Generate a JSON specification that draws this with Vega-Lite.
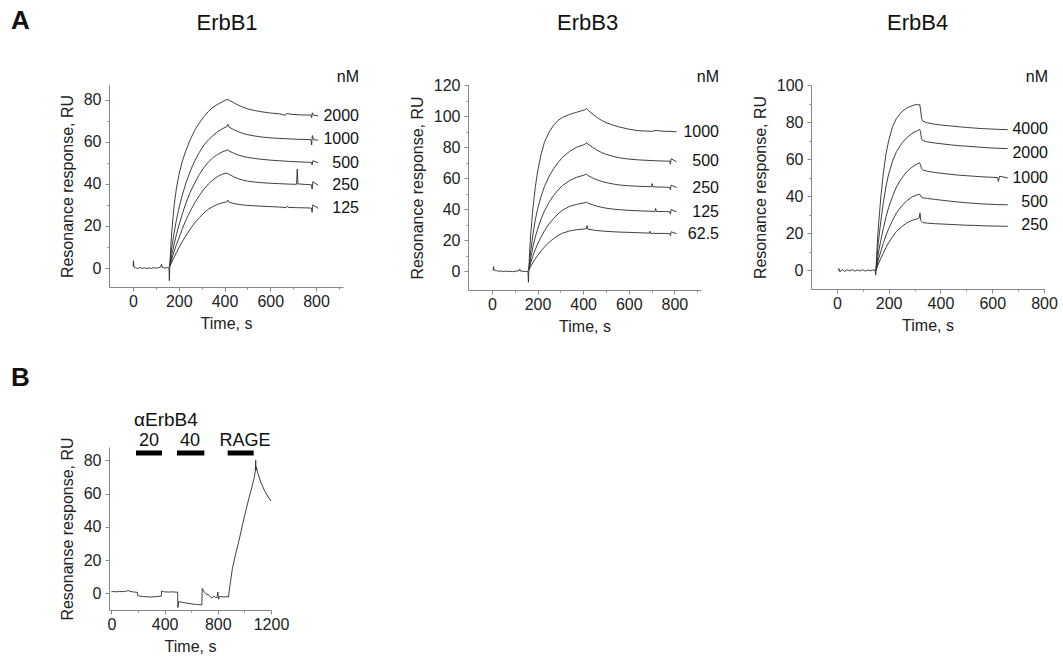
{
"$schema": "https://vega.github.io/schema/vega-lite/v6.json",
"padding": {"left": 10, "top": 8, "right": 5, "bottom": 5},
"background": "white",
"config": {
  "view": {"stroke": null},
  "font": "Liberation Sans",
  "axis": {"domainColor": "#888", "tickColor": "#888", "labelColor": "#222", "titleColor": "#222", "labelFontSize": 16, "titleFontSize": 16, "titleFontWeight": "normal", "grid": false, "labelFlush": false, "labelOverlap": false, "labelFont": "Liberation Sans", "titleFont": "Liberation Sans"},
  "axisX": {"labelPadding": 2, "titlePadding": 6},
  "axisY": {"labelPadding": 4, "titlePadding": 8},
  "text": {"font": "Liberation Sans", "color": "#111"}
},
"datasets": {
  "p1": [
    {"s":"b","t":0,"v":0.8},{"s":"b","t":2,"v":3.5},{"s":"b","t":4,"v":0.5},{"s":"b","t":10,"v":0.2},{"s":"b","t":20,"v":-0.3},{"s":"b","t":30,"v":0.3},{"s":"b","t":40,"v":-0.2},{"s":"b","t":50,"v":0.2},{"s":"b","t":60,"v":-0.3},{"s":"b","t":70,"v":0.1},{"s":"b","t":80,"v":-0.2},{"s":"b","t":90,"v":0.2},{"s":"b","t":100,"v":-0.1},{"s":"b","t":110,"v":0.2},{"s":"b","t":120,"v":0.4},{"s":"b","t":125,"v":1.8},{"s":"b","t":128,"v":0.3},{"s":"b","t":140,"v":0},{"s":"b","t":150,"v":0.2},{"s":"b","t":157,"v":0.5},{"s":"b","t":159,"v":-6},{"s":"b","t":161,"v":1},
    {"s":"2000","t":161,"v":1},{"s":"2000","t":165,"v":10},{"s":"2000","t":170,"v":18},{"s":"2000","t":180,"v":30},{"s":"2000","t":190,"v":38},{"s":"2000","t":200,"v":44},{"s":"2000","t":215,"v":50.5},{"s":"2000","t":230,"v":55.5},{"s":"2000","t":250,"v":61},{"s":"2000","t":270,"v":65.5},{"s":"2000","t":290,"v":69},{"s":"2000","t":310,"v":72},{"s":"2000","t":330,"v":74.5},{"s":"2000","t":350,"v":76.5},{"s":"2000","t":370,"v":77.8},{"s":"2000","t":390,"v":79},{"s":"2000","t":405,"v":79.8},{"s":"2000","t":415,"v":80.2},{"s":"2000","t":420,"v":79.7},{"s":"2000","t":440,"v":78.6},{"s":"2000","t":460,"v":77.4},{"s":"2000","t":480,"v":76.5},{"s":"2000","t":500,"v":75.7},{"s":"2000","t":530,"v":74.9},{"s":"2000","t":560,"v":74.3},{"s":"2000","t":600,"v":73.7},{"s":"2000","t":640,"v":73.3},{"s":"2000","t":665,"v":72.6},{"s":"2000","t":670,"v":73.4},{"s":"2000","t":700,"v":73},{"s":"2000","t":730,"v":72.8},{"s":"2000","t":760,"v":72.7},{"s":"2000","t":778,"v":72.8},{"s":"2000","t":781,"v":71.5},{"s":"2000","t":784,"v":73.8},{"s":"2000","t":790,"v":72.6},{"s":"2000","t":810,"v":72.3},
    {"s":"1000","t":161,"v":1},{"s":"1000","t":165,"v":6},{"s":"1000","t":170,"v":10},{"s":"1000","t":180,"v":17},{"s":"1000","t":190,"v":23},{"s":"1000","t":200,"v":28},{"s":"1000","t":215,"v":34.5},{"s":"1000","t":230,"v":40},{"s":"1000","t":250,"v":46},{"s":"1000","t":270,"v":51},{"s":"1000","t":290,"v":55},{"s":"1000","t":310,"v":58.5},{"s":"1000","t":330,"v":61},{"s":"1000","t":350,"v":63},{"s":"1000","t":370,"v":64.8},{"s":"1000","t":390,"v":66.2},{"s":"1000","t":410,"v":67.2},{"s":"1000","t":415,"v":68.3},{"s":"1000","t":420,"v":67},{"s":"1000","t":440,"v":65.8},{"s":"1000","t":460,"v":64.8},{"s":"1000","t":480,"v":64},{"s":"1000","t":500,"v":63.4},{"s":"1000","t":530,"v":62.8},{"s":"1000","t":560,"v":62.3},{"s":"1000","t":600,"v":61.9},{"s":"1000","t":640,"v":61.6},{"s":"1000","t":680,"v":61.4},{"s":"1000","t":720,"v":61.2},{"s":"1000","t":760,"v":61.1},{"s":"1000","t":778,"v":61},{"s":"1000","t":781,"v":58.5},{"s":"1000","t":784,"v":63},{"s":"1000","t":790,"v":61},{"s":"1000","t":810,"v":60.8},
    {"s":"500","t":161,"v":1},{"s":"500","t":170,"v":6.5},{"s":"500","t":180,"v":11.5},{"s":"500","t":190,"v":16},{"s":"500","t":200,"v":20},{"s":"500","t":215,"v":25.5},{"s":"500","t":230,"v":30.5},{"s":"500","t":250,"v":36},{"s":"500","t":270,"v":40.5},{"s":"500","t":290,"v":44.5},{"s":"500","t":310,"v":47.8},{"s":"500","t":330,"v":50.5},{"s":"500","t":350,"v":52.5},{"s":"500","t":370,"v":54},{"s":"500","t":390,"v":55.2},{"s":"500","t":410,"v":56},{"s":"500","t":415,"v":56.3},{"s":"500","t":420,"v":55.6},{"s":"500","t":440,"v":54.6},{"s":"500","t":460,"v":53.7},{"s":"500","t":480,"v":53.1},{"s":"500","t":500,"v":52.6},{"s":"500","t":530,"v":52.1},{"s":"500","t":560,"v":51.7},{"s":"500","t":600,"v":51.3},{"s":"500","t":640,"v":51},{"s":"500","t":680,"v":50.7},{"s":"500","t":720,"v":50.5},{"s":"500","t":760,"v":50.3},{"s":"500","t":780,"v":50.2},{"s":"500","t":783,"v":49},{"s":"500","t":786,"v":51},{"s":"500","t":810,"v":50},
    {"s":"250","t":161,"v":1},{"s":"250","t":170,"v":4.5},{"s":"250","t":180,"v":8},{"s":"250","t":190,"v":11.2},{"s":"250","t":200,"v":14},{"s":"250","t":215,"v":18.5},{"s":"250","t":230,"v":22.5},{"s":"250","t":250,"v":27},{"s":"250","t":270,"v":31},{"s":"250","t":290,"v":34.5},{"s":"250","t":310,"v":37.5},{"s":"250","t":330,"v":40},{"s":"250","t":350,"v":42},{"s":"250","t":370,"v":43.5},{"s":"250","t":390,"v":44.6},{"s":"250","t":410,"v":45.2},{"s":"250","t":420,"v":44.5},{"s":"250","t":440,"v":43.4},{"s":"250","t":460,"v":42.5},{"s":"250","t":480,"v":41.8},{"s":"250","t":500,"v":41.3},{"s":"250","t":530,"v":40.9},{"s":"250","t":560,"v":40.6},{"s":"250","t":600,"v":40.3},{"s":"250","t":640,"v":40.1},{"s":"250","t":680,"v":39.9},{"s":"250","t":715,"v":39.8},{"s":"250","t":718,"v":47},{"s":"250","t":721,"v":40},{"s":"250","t":760,"v":39.7},{"s":"250","t":780,"v":39.6},{"s":"250","t":783,"v":37.5},{"s":"250","t":786,"v":41},{"s":"250","t":810,"v":39.3},
    {"s":"125","t":161,"v":1},{"s":"125","t":170,"v":3},{"s":"125","t":180,"v":5.2},{"s":"125","t":190,"v":7.4},{"s":"125","t":200,"v":9.5},{"s":"125","t":215,"v":12.5},{"s":"125","t":230,"v":15.2},{"s":"125","t":250,"v":18.5},{"s":"125","t":270,"v":21.5},{"s":"125","t":290,"v":24},{"s":"125","t":310,"v":26.2},{"s":"125","t":330,"v":28},{"s":"125","t":350,"v":29.3},{"s":"125","t":370,"v":30.3},{"s":"125","t":390,"v":31},{"s":"125","t":410,"v":31.5},{"s":"125","t":415,"v":32.3},{"s":"125","t":420,"v":31.3},{"s":"125","t":440,"v":30.7},{"s":"125","t":460,"v":30.3},{"s":"125","t":480,"v":30},{"s":"125","t":500,"v":29.8},{"s":"125","t":530,"v":29.6},{"s":"125","t":560,"v":29.4},{"s":"125","t":600,"v":29.2},{"s":"125","t":640,"v":29},{"s":"125","t":670,"v":28.7},{"s":"125","t":675,"v":29.5},{"s":"125","t":680,"v":28.8},{"s":"125","t":720,"v":28.7},{"s":"125","t":760,"v":28.6},{"s":"125","t":780,"v":28.5},{"s":"125","t":783,"v":26.5},{"s":"125","t":786,"v":30},{"s":"125","t":810,"v":28.4}
  ],
  "p2": [
    {"s":"b","t":5,"v":0.5},{"s":"b","t":7,"v":3},{"s":"b","t":9,"v":1},{"s":"b","t":20,"v":0.5},{"s":"b","t":30,"v":0},{"s":"b","t":40,"v":0.3},{"s":"b","t":50,"v":-0.2},{"s":"b","t":60,"v":0.2},{"s":"b","t":70,"v":-0.1},{"s":"b","t":80,"v":0.1},{"s":"b","t":90,"v":-0.2},{"s":"b","t":100,"v":0},{"s":"b","t":110,"v":0.2},{"s":"b","t":118,"v":0.3},{"s":"b","t":122,"v":1.5},{"s":"b","t":125,"v":0.2},{"s":"b","t":140,"v":0},{"s":"b","t":150,"v":-0.2},{"s":"b","t":158,"v":0.3},{"s":"b","t":160,"v":-7},{"s":"b","t":162,"v":1},
    {"s":"1000","t":162,"v":1},{"s":"1000","t":165,"v":12},{"s":"1000","t":170,"v":24},{"s":"1000","t":180,"v":41},{"s":"1000","t":190,"v":54},{"s":"1000","t":200,"v":64},{"s":"1000","t":215,"v":75},{"s":"1000","t":230,"v":83},{"s":"1000","t":250,"v":89.5},{"s":"1000","t":270,"v":94},{"s":"1000","t":290,"v":97.2},{"s":"1000","t":310,"v":99.2},{"s":"1000","t":340,"v":101},{"s":"1000","t":370,"v":102.4},{"s":"1000","t":400,"v":103.7},{"s":"1000","t":410,"v":104.2},{"s":"1000","t":415,"v":105},{"s":"1000","t":420,"v":104},{"s":"1000","t":440,"v":101.5},{"s":"1000","t":460,"v":99.2},{"s":"1000","t":480,"v":97.3},{"s":"1000","t":500,"v":95.8},{"s":"1000","t":530,"v":94.2},{"s":"1000","t":560,"v":92.9},{"s":"1000","t":600,"v":91.6},{"s":"1000","t":640,"v":90.6},{"s":"1000","t":680,"v":90.3},{"s":"1000","t":700,"v":90.1},{"s":"1000","t":720,"v":90.8},{"s":"1000","t":740,"v":90.4},{"s":"1000","t":760,"v":90.2},{"s":"1000","t":790,"v":90.1},{"s":"1000","t":810,"v":89.8},
    {"s":"500","t":162,"v":1},{"s":"500","t":170,"v":13},{"s":"500","t":180,"v":24},{"s":"500","t":190,"v":33},{"s":"500","t":200,"v":40},{"s":"500","t":215,"v":48},{"s":"500","t":230,"v":54.5},{"s":"500","t":250,"v":61},{"s":"500","t":270,"v":66},{"s":"500","t":290,"v":70},{"s":"500","t":310,"v":73.5},{"s":"500","t":340,"v":77.2},{"s":"500","t":370,"v":79.8},{"s":"500","t":400,"v":81.4},{"s":"500","t":410,"v":82},{"s":"500","t":415,"v":83},{"s":"500","t":420,"v":82},{"s":"500","t":440,"v":80},{"s":"500","t":460,"v":78.1},{"s":"500","t":480,"v":76.6},{"s":"500","t":500,"v":75.4},{"s":"500","t":530,"v":74.1},{"s":"500","t":560,"v":73.1},{"s":"500","t":600,"v":72.3},{"s":"500","t":640,"v":71.8},{"s":"500","t":680,"v":71.5},{"s":"500","t":720,"v":71.2},{"s":"500","t":760,"v":71},{"s":"500","t":780,"v":71},{"s":"500","t":783,"v":69},{"s":"500","t":786,"v":72.5},{"s":"500","t":810,"v":70.6},
    {"s":"250","t":162,"v":1},{"s":"250","t":170,"v":8.5},{"s":"250","t":180,"v":16},{"s":"250","t":190,"v":22},{"s":"250","t":200,"v":27},{"s":"250","t":215,"v":33.5},{"s":"250","t":230,"v":38.8},{"s":"250","t":250,"v":44.3},{"s":"250","t":270,"v":48.8},{"s":"250","t":290,"v":52.4},{"s":"250","t":310,"v":55.3},{"s":"250","t":340,"v":58.4},{"s":"250","t":370,"v":60.5},{"s":"250","t":400,"v":61.8},{"s":"250","t":415,"v":62.6},{"s":"250","t":420,"v":61.8},{"s":"250","t":440,"v":60.3},{"s":"250","t":460,"v":59},{"s":"250","t":480,"v":58},{"s":"250","t":500,"v":57.2},{"s":"250","t":530,"v":56.3},{"s":"250","t":560,"v":55.6},{"s":"250","t":600,"v":55.1},{"s":"250","t":640,"v":54.8},{"s":"250","t":680,"v":54.6},{"s":"250","t":700,"v":54.5},{"s":"250","t":703,"v":56.5},{"s":"250","t":706,"v":54.4},{"s":"250","t":760,"v":54.2},{"s":"250","t":780,"v":54.1},{"s":"250","t":783,"v":52.5},{"s":"250","t":786,"v":55.5},{"s":"250","t":810,"v":54},
    {"s":"125","t":162,"v":1},{"s":"125","t":170,"v":5.5},{"s":"125","t":180,"v":10},{"s":"125","t":190,"v":14},{"s":"125","t":200,"v":17.5},{"s":"125","t":215,"v":22},{"s":"125","t":230,"v":26},{"s":"125","t":250,"v":30.5},{"s":"125","t":270,"v":34},{"s":"125","t":290,"v":37},{"s":"125","t":310,"v":39.5},{"s":"125","t":340,"v":41.8},{"s":"125","t":370,"v":43.1},{"s":"125","t":400,"v":44},{"s":"125","t":415,"v":44.6},{"s":"125","t":420,"v":44},{"s":"125","t":440,"v":43},{"s":"125","t":460,"v":42},{"s":"125","t":480,"v":41.3},{"s":"125","t":500,"v":40.7},{"s":"125","t":530,"v":40.1},{"s":"125","t":560,"v":39.7},{"s":"125","t":600,"v":39.3},{"s":"125","t":640,"v":39},{"s":"125","t":680,"v":38.8},{"s":"125","t":715,"v":38.6},{"s":"125","t":718,"v":40.5},{"s":"125","t":721,"v":38.6},{"s":"125","t":760,"v":38.5},{"s":"125","t":780,"v":38.4},{"s":"125","t":783,"v":36.8},{"s":"125","t":786,"v":39.8},{"s":"125","t":810,"v":38.3},
    {"s":"62.5","t":162,"v":1},{"s":"62.5","t":170,"v":3.2},{"s":"62.5","t":180,"v":5.7},{"s":"62.5","t":190,"v":8.1},{"s":"62.5","t":200,"v":10.2},{"s":"62.5","t":215,"v":13.1},{"s":"62.5","t":230,"v":15.6},{"s":"62.5","t":250,"v":18.6},{"s":"62.5","t":270,"v":21.1},{"s":"62.5","t":290,"v":23.1},{"s":"62.5","t":310,"v":24.6},{"s":"62.5","t":340,"v":26},{"s":"62.5","t":370,"v":26.8},{"s":"62.5","t":400,"v":27.2},{"s":"62.5","t":414,"v":27.5},{"s":"62.5","t":417,"v":29.5},{"s":"62.5","t":420,"v":27.2},{"s":"62.5","t":440,"v":26.7},{"s":"62.5","t":460,"v":26.3},{"s":"62.5","t":480,"v":26},{"s":"62.5","t":500,"v":25.8},{"s":"62.5","t":530,"v":25.5},{"s":"62.5","t":560,"v":25.3},{"s":"62.5","t":600,"v":25.1},{"s":"62.5","t":640,"v":24.9},{"s":"62.5","t":680,"v":24.7},{"s":"62.5","t":690,"v":24.6},{"s":"62.5","t":693,"v":25.8},{"s":"62.5","t":696,"v":24.5},{"s":"62.5","t":760,"v":24.4},{"s":"62.5","t":780,"v":24.3},{"s":"62.5","t":783,"v":23},{"s":"62.5","t":786,"v":25.5},{"s":"62.5","t":810,"v":24.2}
  ],
  "p3": [
    {"s":"b","t":5,"v":0},{"s":"b","t":8,"v":1},{"s":"b","t":12,"v":-0.8},{"s":"b","t":20,"v":0.5},{"s":"b","t":30,"v":-0.5},{"s":"b","t":40,"v":0.4},{"s":"b","t":50,"v":-0.3},{"s":"b","t":60,"v":0.5},{"s":"b","t":70,"v":-0.4},{"s":"b","t":80,"v":0.3},{"s":"b","t":90,"v":-0.3},{"s":"b","t":100,"v":0.4},{"s":"b","t":110,"v":-0.4},{"s":"b","t":120,"v":0.3},{"s":"b","t":130,"v":-0.2},{"s":"b","t":140,"v":0.3},{"s":"b","t":148,"v":0},{"s":"b","t":150,"v":-2.5},{"s":"b","t":151,"v":0},
    {"s":"4000","t":151,"v":0},{"s":"4000","t":155,"v":12},{"s":"4000","t":160,"v":23},{"s":"4000","t":170,"v":40},{"s":"4000","t":180,"v":53},{"s":"4000","t":190,"v":63},{"s":"4000","t":200,"v":70},{"s":"4000","t":215,"v":77.5},{"s":"4000","t":230,"v":82},{"s":"4000","t":250,"v":85.5},{"s":"4000","t":270,"v":87.6},{"s":"4000","t":290,"v":88.8},{"s":"4000","t":305,"v":89.5},{"s":"4000","t":315,"v":89.2},{"s":"4000","t":320,"v":89.6},{"s":"4000","t":323,"v":87},{"s":"4000","t":327,"v":82},{"s":"4000","t":332,"v":80.5},{"s":"4000","t":350,"v":79.6},{"s":"4000","t":380,"v":78.8},{"s":"4000","t":410,"v":78.3},{"s":"4000","t":440,"v":77.9},{"s":"4000","t":470,"v":77.5},{"s":"4000","t":500,"v":77.1},{"s":"4000","t":530,"v":76.8},{"s":"4000","t":560,"v":76.5},{"s":"4000","t":590,"v":76.3},{"s":"4000","t":620,"v":76.1},{"s":"4000","t":660,"v":75.9},
    {"s":"2000","t":151,"v":0},{"s":"2000","t":160,"v":15},{"s":"2000","t":170,"v":27},{"s":"2000","t":180,"v":37},{"s":"2000","t":190,"v":45.5},{"s":"2000","t":200,"v":52},{"s":"2000","t":215,"v":59},{"s":"2000","t":230,"v":64},{"s":"2000","t":250,"v":68.5},{"s":"2000","t":270,"v":71.6},{"s":"2000","t":290,"v":73.9},{"s":"2000","t":310,"v":75.3},{"s":"2000","t":320,"v":76},{"s":"2000","t":323,"v":75},{"s":"2000","t":327,"v":71},{"s":"2000","t":332,"v":70},{"s":"2000","t":350,"v":69.3},{"s":"2000","t":380,"v":68.7},{"s":"2000","t":410,"v":68.2},{"s":"2000","t":440,"v":67.7},{"s":"2000","t":470,"v":67.3},{"s":"2000","t":500,"v":67},{"s":"2000","t":530,"v":66.7},{"s":"2000","t":560,"v":66.4},{"s":"2000","t":590,"v":66.1},{"s":"2000","t":620,"v":65.9},{"s":"2000","t":660,"v":65.7},
    {"s":"1000","t":151,"v":0},{"s":"1000","t":160,"v":9},{"s":"1000","t":170,"v":16.5},{"s":"1000","t":180,"v":23},{"s":"1000","t":190,"v":29},{"s":"1000","t":200,"v":34},{"s":"1000","t":215,"v":40},{"s":"1000","t":230,"v":45},{"s":"1000","t":250,"v":49.7},{"s":"1000","t":270,"v":53.2},{"s":"1000","t":290,"v":55.7},{"s":"1000","t":310,"v":57.4},{"s":"1000","t":320,"v":58},{"s":"1000","t":323,"v":57},{"s":"1000","t":327,"v":54.8},{"s":"1000","t":332,"v":54.2},{"s":"1000","t":350,"v":53.5},{"s":"1000","t":380,"v":52.8},{"s":"1000","t":410,"v":52.3},{"s":"1000","t":440,"v":51.8},{"s":"1000","t":470,"v":51.4},{"s":"1000","t":500,"v":51.1},{"s":"1000","t":530,"v":50.8},{"s":"1000","t":560,"v":50.5},{"s":"1000","t":590,"v":50.3},{"s":"1000","t":620,"v":50.1},{"s":"1000","t":624,"v":48},{"s":"1000","t":628,"v":50.8},{"s":"1000","t":660,"v":49.9},
    {"s":"500","t":151,"v":0},{"s":"500","t":160,"v":5.5},{"s":"500","t":170,"v":10.5},{"s":"500","t":180,"v":15},{"s":"500","t":190,"v":19},{"s":"500","t":200,"v":22.5},{"s":"500","t":215,"v":27},{"s":"500","t":230,"v":31},{"s":"500","t":250,"v":34.7},{"s":"500","t":270,"v":37.6},{"s":"500","t":290,"v":39.6},{"s":"500","t":310,"v":40.8},{"s":"500","t":320,"v":41.1},{"s":"500","t":325,"v":39.7},{"s":"500","t":332,"v":39.2},{"s":"500","t":350,"v":38.8},{"s":"500","t":380,"v":38.3},{"s":"500","t":410,"v":37.8},{"s":"500","t":440,"v":37.3},{"s":"500","t":470,"v":36.9},{"s":"500","t":500,"v":36.5},{"s":"500","t":530,"v":36.2},{"s":"500","t":560,"v":35.9},{"s":"500","t":590,"v":35.7},{"s":"500","t":620,"v":35.5},{"s":"500","t":660,"v":35.4},
    {"s":"250","t":151,"v":0},{"s":"250","t":160,"v":3.5},{"s":"250","t":170,"v":6.6},{"s":"250","t":180,"v":9.6},{"s":"250","t":190,"v":12.4},{"s":"250","t":200,"v":15},{"s":"250","t":215,"v":18.2},{"s":"250","t":230,"v":21},{"s":"250","t":250,"v":23.6},{"s":"250","t":270,"v":25.6},{"s":"250","t":290,"v":27},{"s":"250","t":310,"v":27.8},{"s":"250","t":318,"v":28.3},{"s":"250","t":321,"v":31},{"s":"250","t":324,"v":27},{"s":"250","t":332,"v":25.8},{"s":"250","t":350,"v":25.5},{"s":"250","t":380,"v":25.2},{"s":"250","t":410,"v":25},{"s":"250","t":440,"v":24.8},{"s":"250","t":470,"v":24.6},{"s":"250","t":500,"v":24.4},{"s":"250","t":530,"v":24.3},{"s":"250","t":560,"v":24.1},{"s":"250","t":590,"v":24},{"s":"250","t":620,"v":23.9},{"s":"250","t":660,"v":23.8}
  ],
  "pb": [
    {"t":0,"v":1},{"t":20,"v":1.1},{"t":40,"v":0.9},{"t":60,"v":1.2},{"t":80,"v":1},{"t":100,"v":1.3},{"t":115,"v":1.1},{"t":125,"v":2},{"t":135,"v":1.3},{"t":160,"v":0.9},{"t":180,"v":0.7},{"t":195,"v":0.6},{"t":198,"v":-1.2},{"t":210,"v":-1.6},{"t":240,"v":-1.9},{"t":270,"v":-2.1},{"t":300,"v":-2.2},{"t":330,"v":-2},{"t":360,"v":-1.8},{"t":375,"v":-1.7},{"t":378,"v":1.5},{"t":385,"v":1.1},{"t":400,"v":0.9},{"t":430,"v":0.8},{"t":460,"v":0.9},{"t":490,"v":0.7},{"t":498,"v":0.8},{"t":500,"v":-8.5},{"t":505,"v":-5},{"t":530,"v":-5.3},{"t":560,"v":-5.8},{"t":600,"v":-6.3},{"t":640,"v":-6.7},{"t":680,"v":-6.9},{"t":683,"v":3},{"t":690,"v":2},{"t":700,"v":0.5},{"t":715,"v":-0.5},{"t":730,"v":-0.8},{"t":740,"v":-1.8},{"t":755,"v":-2.8},{"t":770,"v":-1.6},{"t":785,"v":-2.6},{"t":795,"v":-2.4},{"t":800,"v":0.8},{"t":805,"v":-3.5},{"t":815,"v":-1.8},{"t":840,"v":-2.2},{"t":870,"v":-2},{"t":880,"v":-2.2},{"t":890,"v":4},{"t":910,"v":15},{"t":935,"v":24},{"t":960,"v":32},{"t":985,"v":41},{"t":1010,"v":49.5},{"t":1035,"v":57.5},{"t":1060,"v":65},{"t":1075,"v":70},{"t":1082,"v":73.5},{"t":1085,"v":80},{"t":1087,"v":74},{"t":1090,"v":76},{"t":1100,"v":72.5},{"t":1125,"v":66.5},{"t":1150,"v":62},{"t":1175,"v":58.5},{"t":1200,"v":55.5}
  ],
  "bars": [
    {"t":185,"t1":380,"v":84.4},{"t":493,"t1":699,"v":84.4},{"t":874,"t1":1070,"v":84.4}
  ],
  "txt": [
    {"p":"p1","k":"letter","label":"A","t":-533,"v":113.6},
    {"p":"p1","k":"title","label":"ErbB1","t":411,"v":113},
    {"p":"p1","k":"lab","label":"nM","t":988,"v":90.8},
    {"p":"p1","k":"lab","label":"2000","t":988,"v":72.5},
    {"p":"p1","k":"lab","label":"1000","t":988,"v":61.5},
    {"p":"p1","k":"lab","label":"500","t":988,"v":50},
    {"p":"p1","k":"lab","label":"250","t":988,"v":39.5},
    {"p":"p1","k":"lab","label":"125","t":988,"v":28.5},
    {"p":"p2","k":"title","label":"ErbB3","t":420,"v":155.4},
    {"p":"p2","k":"lab","label":"nM","t":996,"v":125.2},
    {"p":"p2","k":"lab","label":"1000","t":996,"v":90},
    {"p":"p2","k":"lab","label":"500","t":996,"v":71},
    {"p":"p2","k":"lab","label":"250","t":996,"v":54},
    {"p":"p2","k":"lab","label":"125","t":996,"v":38.3},
    {"p":"p2","k":"lab","label":"62.5","t":996,"v":24},
    {"p":"p3","k":"title","label":"ErbB4","t":312,"v":129.7},
    {"p":"p3","k":"lab","label":"nM","t":815.5,"v":104.3},
    {"p":"p3","k":"lab","label":"4000","t":815.5,"v":76.5},
    {"p":"p3","k":"lab","label":"2000","t":815.5,"v":63.5},
    {"p":"p3","k":"lab","label":"1000","t":815.5,"v":50},
    {"p":"p3","k":"lab","label":"500","t":815.5,"v":37},
    {"p":"p3","k":"lab","label":"250","t":815.5,"v":24.5},
    {"p":"pb","k":"letter","label":"B","t":-755,"v":124.7},
    {"p":"pb","k":"left","label":"αErbB4","t":170,"v":100.6},
    {"p":"pb","k":"bar","label":"20","t":283,"v":88.6},
    {"p":"pb","k":"bar","label":"40","t":591,"v":88.6},
    {"p":"pb","k":"bar","label":"RAGE","t":1005,"v":88.6}
  ]
},
"columns": 5,
"spacing": {"row": 157, "column": 10},
"bounds": "flush",
"align": "each",
"concat": [
  {
    "width": 234, "height": 202,
    "encoding": {
      "x": {"field": "t", "type": "quantitative", "scale": {"domain": [-105, 918], "nice": false, "zero": false},
            "axis": {"title": "Time, s", "values": [0,100,200,300,400,500,600,700,800,900], "labelExpr": "datum.value % 200 === 0 ? datum.label : ''", "tickSize": {"condition": {"test": "datum.value % 200 === 0", "value": 4}, "value": 2}}},
      "y": {"field": "v", "type": "quantitative", "scale": {"domain": [-9, 87], "nice": false, "zero": false},
            "axis": {"title": "Resonance response, RU", "values": [0,10,20,30,40,50,60,70,80], "labelExpr": "datum.value % 20 === 0 ? datum.label : ''", "tickSize": {"condition": {"test": "datum.value % 20 === 0", "value": 4}, "value": 2}}}
    },
    "layer": [
      {"data": {"name": "p1"}, "mark": {"type": "line", "stroke": "#2a2a2a", "strokeWidth": 0.9}, "encoding": {"detail": {"field": "s"}}},
      {"data": {"name": "txt"}, "transform": [{"filter": "datum.p === 'p1' && datum.k === 'letter'"}], "mark": {"type": "text", "fontSize": 26, "fontWeight": "bold", "align": "left", "baseline": "alphabetic"}, "encoding": {"text": {"field": "label"}}},
      {"data": {"name": "txt"}, "transform": [{"filter": "datum.p === 'p1' && datum.k === 'title'"}], "mark": {"type": "text", "fontSize": 22, "align": "center", "baseline": "alphabetic"}, "encoding": {"text": {"field": "label"}}},
      {"data": {"name": "txt"}, "transform": [{"filter": "datum.p === 'p1' && datum.k === 'lab'"}], "mark": {"type": "text", "fontSize": 16, "align": "right", "baseline": "middle"}, "encoding": {"text": {"field": "label"}}}
    ]
  },
  {"width": 105, "height": 10, "data": {"values": [{"a": 1}]}, "mark": {"type": "point", "opacity": 0}},
  {
    "width": 233, "height": 205,
    "encoding": {
      "x": {"field": "t", "type": "quantitative", "scale": {"domain": [-105, 917], "nice": false, "zero": false},
            "axis": {"title": "Time, s", "values": [0,100,200,300,400,500,600,700,800,900], "labelExpr": "datum.value % 200 === 0 ? datum.label : ''", "tickSize": {"condition": {"test": "datum.value % 200 === 0", "value": 4}, "value": 2}}},
      "y": {"field": "v", "type": "quantitative", "scale": {"domain": [-12, 120], "nice": false, "zero": false},
            "axis": {"title": "Resonance response, RU", "values": [0,10,20,30,40,50,60,70,80,90,100,110,120], "labelExpr": "datum.value % 20 === 0 ? datum.label : ''", "tickSize": {"condition": {"test": "datum.value % 20 === 0", "value": 4}, "value": 2}}}
    },
    "layer": [
      {"data": {"name": "p2"}, "mark": {"type": "line", "stroke": "#2a2a2a", "strokeWidth": 0.9}, "encoding": {"detail": {"field": "s"}}},
      {"data": {"name": "txt"}, "transform": [{"filter": "datum.p === 'p2' && datum.k === 'title'"}], "mark": {"type": "text", "fontSize": 22, "align": "center", "baseline": "alphabetic"}, "encoding": {"text": {"field": "label"}}},
      {"data": {"name": "txt"}, "transform": [{"filter": "datum.p === 'p2' && datum.k === 'lab'"}], "mark": {"type": "text", "fontSize": 16, "align": "right", "baseline": "middle"}, "encoding": {"text": {"field": "label"}}}
    ]
  },
  {"width": 90, "height": 10, "data": {"values": [{"a": 1}]}, "mark": {"type": "point", "opacity": 0}},
  {
    "width": 233, "height": 204,
    "encoding": {
      "x": {"field": "t", "type": "quantitative", "scale": {"domain": [-100, 800], "nice": false, "zero": false},
            "axis": {"title": "Time, s", "values": [0,100,200,300,400,500,600,700,800], "labelExpr": "datum.value % 200 === 0 ? datum.label : ''", "tickSize": {"condition": {"test": "datum.value % 200 === 0", "value": 4}, "value": 2}}},
      "y": {"field": "v", "type": "quantitative", "scale": {"domain": [-10, 100], "nice": false, "zero": false},
            "axis": {"title": "Resonance response, RU", "values": [0,10,20,30,40,50,60,70,80,90,100], "labelExpr": "datum.value % 20 === 0 ? datum.label : ''", "tickSize": {"condition": {"test": "datum.value % 20 === 0", "value": 4}, "value": 2}}}
    },
    "layer": [
      {"data": {"name": "p3"}, "mark": {"type": "line", "stroke": "#2a2a2a", "strokeWidth": 0.9}, "encoding": {"detail": {"field": "s"}}},
      {"data": {"name": "txt"}, "transform": [{"filter": "datum.p === 'p3' && datum.k === 'title'"}], "mark": {"type": "text", "fontSize": 22, "align": "center", "baseline": "alphabetic"}, "encoding": {"text": {"field": "label"}}},
      {"data": {"name": "txt"}, "transform": [{"filter": "datum.p === 'p3' && datum.k === 'lab'"}], "mark": {"type": "text", "fontSize": 16, "align": "right", "baseline": "middle"}, "encoding": {"text": {"field": "label"}}}
    ]
  },
  {
    "width": 162, "height": 163,
    "encoding": {
      "x": {"field": "t", "type": "quantitative", "scale": {"domain": [-18, 1200], "nice": false, "zero": false},
            "axis": {"title": "Time, s", "format": "d", "values": [0,200,400,600,800,1000,1200], "labelExpr": "datum.value % 400 === 0 ? datum.label : ''", "tickSize": {"condition": {"test": "datum.value % 400 === 0", "value": 4}, "value": 2}}},
      "y": {"field": "v", "type": "quantitative", "scale": {"domain": [-10, 88], "nice": false, "zero": false},
            "axis": {"title": "Resonanse response, RU", "values": [0,20,40,60,80], "tickSize": 4}}
    },
    "layer": [
      {"data": {"name": "pb"}, "mark": {"type": "line", "stroke": "#2a2a2a", "strokeWidth": 0.9}, "encoding": {}},
      {"data": {"name": "bars"}, "mark": {"type": "rule", "stroke": "black", "strokeWidth": 5}, "encoding": {"x2": {"field": "t1"}}},
      {"data": {"name": "txt"}, "transform": [{"filter": "datum.p === 'pb' && datum.k === 'letter'"}], "mark": {"type": "text", "fontSize": 26, "fontWeight": "bold", "align": "left", "baseline": "alphabetic"}, "encoding": {"text": {"field": "label"}}},
      {"data": {"name": "txt"}, "transform": [{"filter": "datum.p === 'pb' && datum.k === 'left'"}], "mark": {"type": "text", "fontSize": 19, "align": "left", "baseline": "alphabetic"}, "encoding": {"text": {"field": "label"}}},
      {"data": {"name": "txt"}, "transform": [{"filter": "datum.p === 'pb' && datum.k === 'bar'"}], "mark": {"type": "text", "fontSize": 18, "align": "center", "baseline": "alphabetic"}, "encoding": {"text": {"field": "label"}}}
    ]
  }
]
}
